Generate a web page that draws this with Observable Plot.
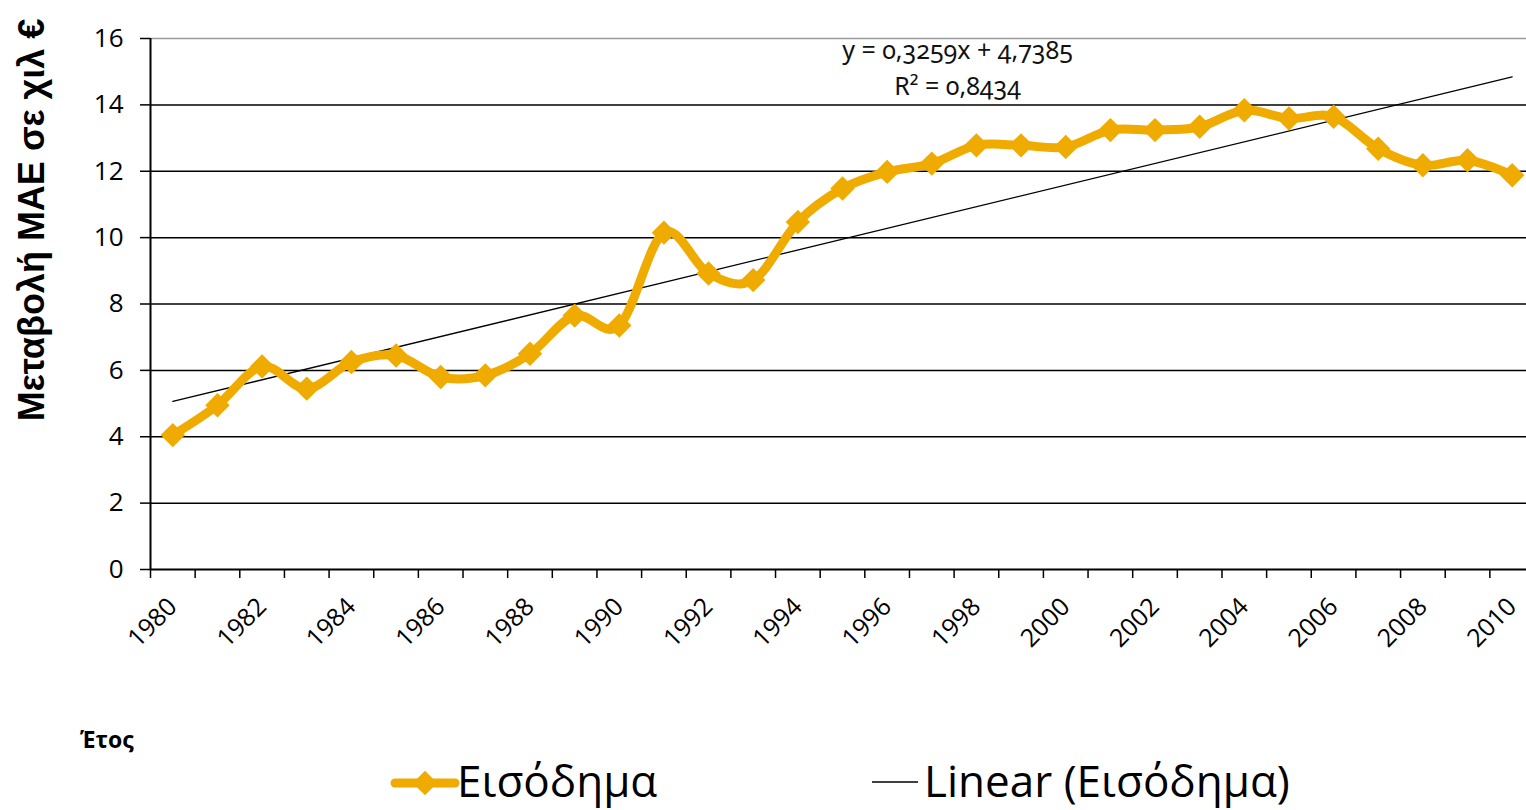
<!DOCTYPE html>
<html>
<head>
<meta charset="utf-8">
<script src="https://cdn.jsdelivr.net/npm/d3@7"></script>
<script src="https://cdn.jsdelivr.net/npm/@observablehq/plot@0.6"></script>
<style>
  html, body { margin: 0; padding: 0; background: #fff; }
  #wrap { position: relative; width: 1526px; height: 810px; overflow: hidden; }
  #overlay { position: absolute; left: 0; top: 0; pointer-events: none; }
</style>
</head>
<body>
<div id="wrap"></div>
<script>
// ---- data ----
const years = [1980,1981,1982,1983,1984,1985,1986,1987,1988,1989,1990,1991,1992,1993,1994,1995,
               1996,1997,1998,1999,2000,2001,2002,2003,2004,2005,2006,2007,2008,2009,2010];
const income = [4.05,4.95,6.12,5.45,6.25,6.45,5.8,5.85,6.5,7.65,7.35,10.15,8.92,8.72,10.47,11.48,
                11.98,12.23,12.78,12.78,12.73,13.24,13.24,13.34,13.84,13.59,13.64,12.68,12.18,12.33,11.88];
const yTicks = [0,2,4,6,8,10,12,14,16];
const xLabelYears = [1980,1982,1984,1986,1988,1990,1992,1994,1996,1998,2000,2002,2004,2006,2008,2010];
const trendSlope = 0.3259;
const trendIntercept = 4.7385;
const eqText = "y = 0,3259x + 4,7385";
const r2Text = "R² = 0,8434";
const yTitle = "Μεταβολή ΜΑΕ σε χιλ €";
const xTitle = "Έτος";
const seriesName = "Εισόδημα";
const trendName = "Linear (Εισόδημα)";

const orange = "#F0AB00";
const data = years.map((y, i) => ({year: y, value: income[i]}));
const trend = [0, years.length - 1].map(i => ({year: years[i], value: trendSlope * (i + 1) + trendIntercept}));
const edges = years.map(y => y - 0.5).concat([years[years.length - 1] + 0.5]);

const chart = Plot.plot({
  width: 1526,
  height: 680,
  marginLeft: 150,
  marginRight: 0,
  marginTop: 38,
  marginBottom: 111,
  style: {fontFamily: "'Open Sans', sans-serif", background: "#fff", overflow: "visible"},
  x: {type: "linear", domain: [years[0] - 0.5, years[years.length - 1] + 0.5], range: [150, 1534]},
  y: {domain: [0, 16]},
  marks: [
    Plot.ruleY(yTicks.filter(d => d > 0 && d < 16), {stroke: "#000", strokeWidth: 1.5}),
    Plot.ruleY([16], {stroke: "#9a9a9a", strokeWidth: 1.5}),
    Plot.ruleX([years[0] - 0.5], {y1: 0, y2: 16, stroke: "#000", strokeWidth: 2}),
    Plot.ruleY([0], {stroke: "#000", strokeWidth: 2}),
    Plot.axisY(yTicks, {tickSize: 10, tickPadding: 17, fontSize: 26, label: null, stroke: "#000", strokeWidth: 1.5, fill: "#000"}),
    Plot.axisX(edges, {tickSize: 9, tickFormat: () => "", label: null, stroke: "#000", strokeWidth: 1.5}),
    Plot.axisX(xLabelYears, {tickSize: 0, tickPadding: 33, tickRotate: -45, fontSize: 25, label: null, tickFormat: d => String(d), fill: "#000"}),
    Plot.line(trend, {x: "year", y: "value", stroke: "#000", strokeWidth: 1.3}),
    Plot.line(data, {x: "year", y: "value", stroke: orange, strokeWidth: 9, curve: "cardinal", strokeLinejoin: "round"}),
    Plot.dot(data, {x: "year", y: "value", symbol: "diamond2", r: 11, fill: orange, stroke: null}),
    Plot.text([eqText], {frameAnchor: "top", lineAnchor: "middle", dx: 119, dy: 12, fontSize: 25, fill: "#111", fontFamily: "'Noto Sans', sans-serif"}),
    Plot.text([r2Text], {frameAnchor: "top", lineAnchor: "middle", dx: 119, dy: 48, fontSize: 25, fill: "#111", fontFamily: "'Noto Sans', sans-serif"})
  ]
});
d3.select(chart).selectAll("g[aria-label='text'] text").style("font-variant-numeric", "oldstyle-nums");

const wrap = document.getElementById("wrap");
wrap.appendChild(chart);

// overlay: axis titles and legend
const svg = d3.select(wrap).append("svg")
  .attr("id", "overlay").attr("width", 1526).attr("height", 810);

svg.append("text")
  .attr("transform", "translate(44,220) rotate(-90)")
  .attr("text-anchor", "middle")
  .style("font-family", "'Liberation Sans', Arial, sans-serif")
  .style("font-weight", "bold")
  .style("font-size", "36px")
  .attr("fill", "#000")
  .text(yTitle);

svg.append("text")
  .attr("x", 80).attr("y", 748)
  .style("font-family", "'Open Sans', sans-serif")
  .style("font-weight", "bold")
  .style("font-size", "23px")
  .attr("fill", "#000")
  .text(xTitle);

// legend item 1
const lg = svg.append("g");
lg.append("line").attr("x1", 395).attr("x2", 455).attr("y1", 783).attr("y2", 783)
  .attr("stroke", orange).attr("stroke-width", 9).attr("stroke-linecap", "round");
lg.append("path").attr("d", d3.symbol(d3.symbolDiamond2, Math.PI * 121)())
  .attr("transform", "translate(425,783)").attr("fill", orange);
lg.append("text").attr("x", 457).attr("y", 797)
  .style("font-family", "'Open Sans', sans-serif").style("font-size", "44px").attr("fill", "#000")
  .text(seriesName);
// legend item 2
lg.append("line").attr("x1", 872).attr("x2", 918).attr("y1", 782).attr("y2", 782)
  .attr("stroke", "#000").attr("stroke-width", 1.3);
lg.append("text").attr("x", 924).attr("y", 797)
  .style("font-family", "'Open Sans', sans-serif").style("font-size", "44px").attr("fill", "#000")
  .text(trendName);
</script>
</body>
</html>
